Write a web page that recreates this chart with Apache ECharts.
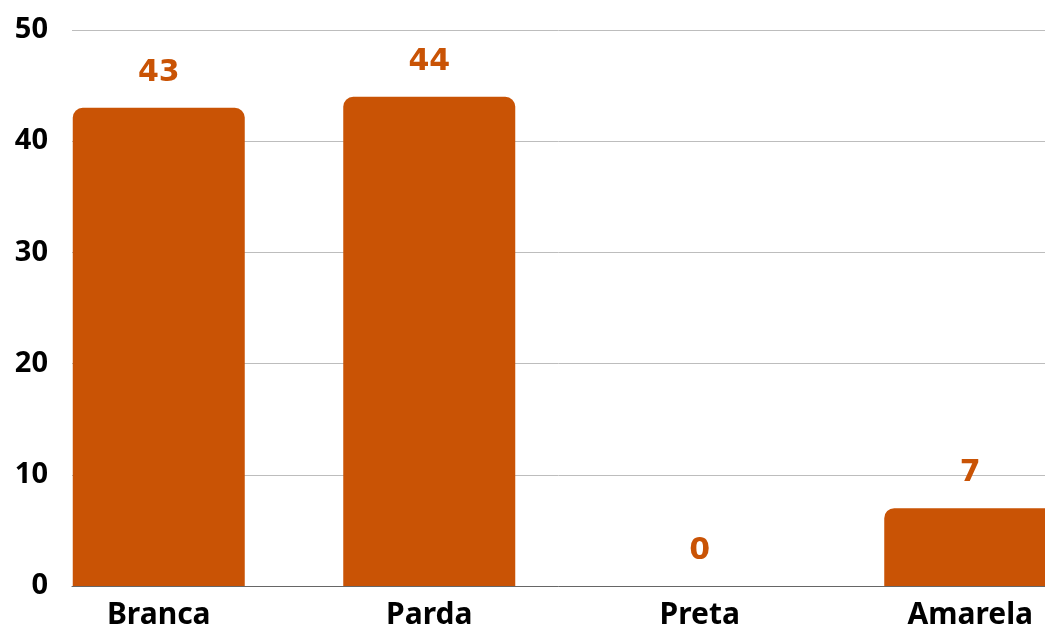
<!DOCTYPE html>
<html>
<head>
<meta charset="utf-8">
<script src="https://cdn.jsdelivr.net/npm/echarts@6/dist/echarts.min.js"></script>
<style>
html, body { margin: 0; padding: 0; background: #fff; }
#chart { width: 1045px; height: 627px; }
</style>
</head>
<body>
<div id="chart"></div>
<script>
var categories = ['Branca', 'Parda', 'Preta', 'Amarela'];
var values = [43, 44, 0, 7];
var yMin = 0, yMax = 50, yStep = 10;

var barColor = '#c95305';
var font = 'Noto Sans';

var option = {
    animation: false,
    // grid 0: gridlines, y labels, bottom axis line; grid 1: bars (wider, runs past the right edge)
    grid: [
        { left: 72, right: 0, top: 30, bottom: 41, outerBoundsMode: 'none' },
        { left: 23.5, width: 1082, top: 30, bottom: 41, outerBoundsMode: 'none' }
    ],
    xAxis: [
        {
            gridIndex: 0,
            type: 'category',
            data: categories,
            axisLine: { show: true, lineStyle: { color: '#666', width: 1 } },
            axisTick: { show: false },
            axisLabel: { show: false },
            splitLine: { show: false }
        },
        {
            gridIndex: 1,
            type: 'category',
            data: categories,
            axisLine: { show: false },
            axisTick: { show: false },
            axisLabel: {
                margin: 14,
                color: '#000',
                fontFamily: font,
                fontWeight: 'bold',
                fontSize: 30
            }
        }
    ],
    yAxis: [
        {
            gridIndex: 0,
            type: 'value',
            min: yMin,
            max: yMax,
            interval: yStep,
            axisLine: { show: false },
            axisTick: { show: false },
            axisLabel: {
                margin: 24,
                color: '#000',
                fontFamily: font,
                fontWeight: 'bold',
                fontSize: 29
            },
            splitLine: { lineStyle: { color: '#bdbdbd', width: 1 } }
        },
        {
            gridIndex: 1,
            type: 'value',
            min: yMin,
            max: yMax,
            interval: yStep,
            show: false
        }
    ],
    series: [
        {
            type: 'bar',
            xAxisIndex: 1,
            yAxisIndex: 1,
            data: values,
            barWidth: 172,
            itemStyle: {
                color: barColor,
                borderRadius: [10, 10, 0, 0]
            },
            label: {
                show: true,
                position: 'top',
                distance: 20,
                color: barColor,
                fontFamily: 'DejaVu Sans',
                fontWeight: 'bold',
                fontSize: 30
            }
        }
    ]
};

var myChart = echarts.init(document.getElementById('chart'));
myChart.setOption(option);
</script>
</body>
</html>
